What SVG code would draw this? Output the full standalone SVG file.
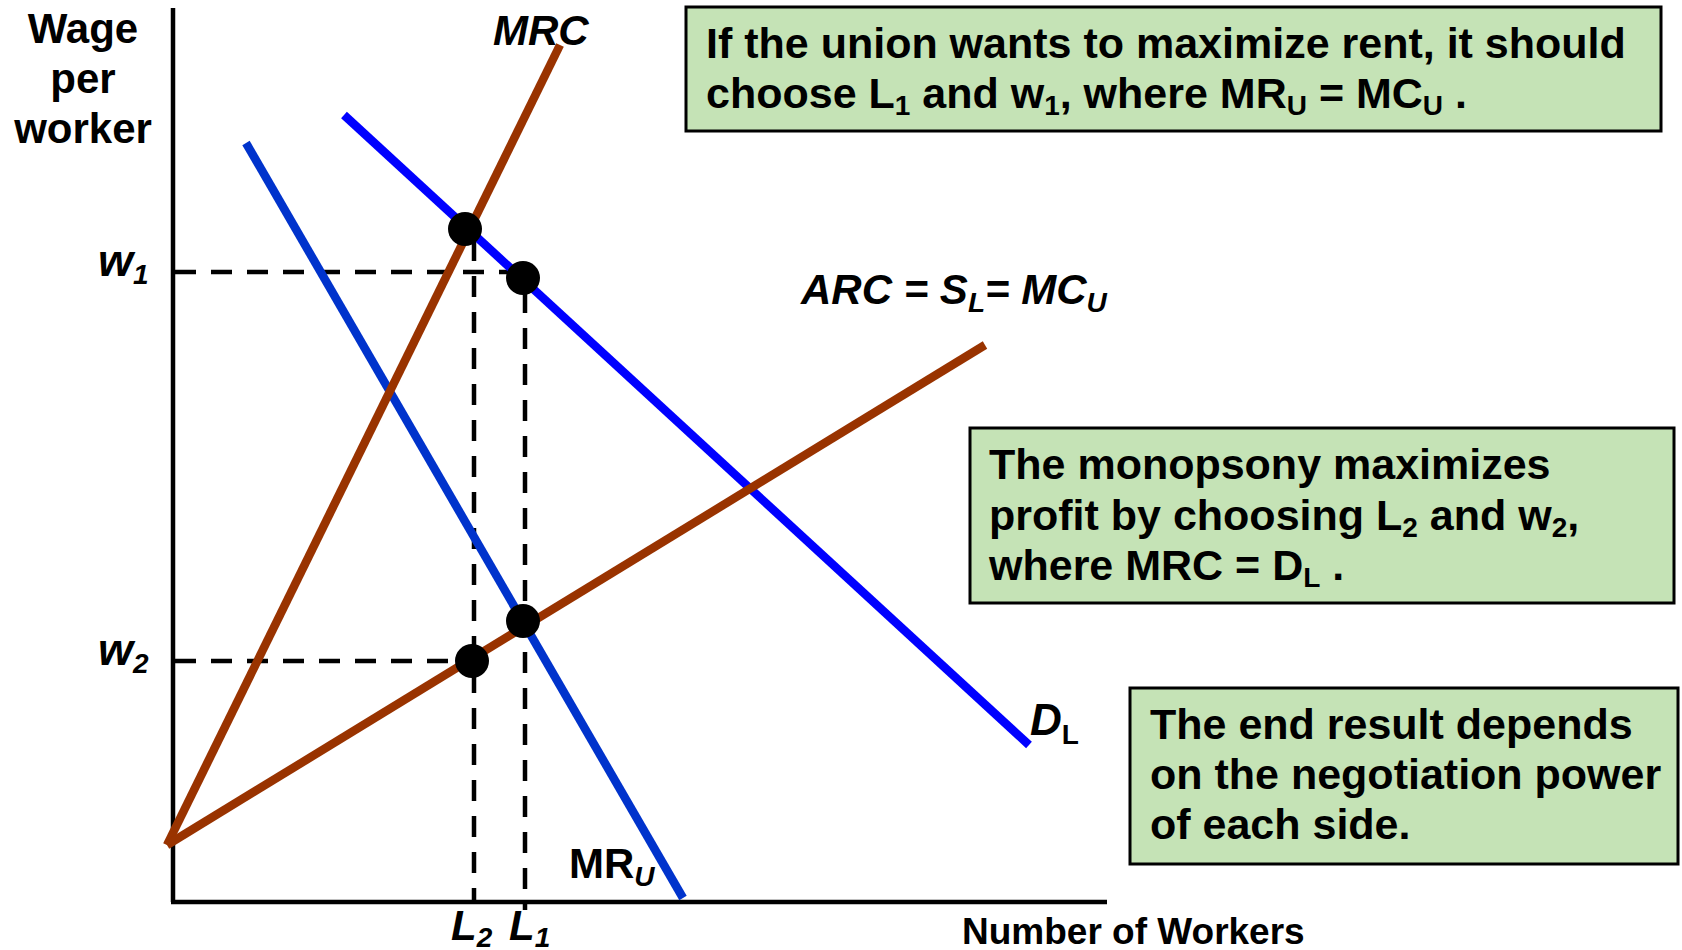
<svg xmlns="http://www.w3.org/2000/svg" width="1682" height="950" viewBox="0 0 1682 950">
<style>
text{font-family:"Liberation Sans",Arial,sans-serif;font-weight:bold;fill:#000}
.it{font-style:italic}
.up{font-style:normal}
.box{fill:#C5E3B6;stroke:#000;stroke-width:3}
.bt{font-size:43px}
.sub{font-size:28px}
.axis{stroke:#000;stroke-width:4.5;fill:none}
.dash{stroke:#000;stroke-width:4.5;stroke-dasharray:21 15;fill:none}
.brown{stroke:#993300;stroke-width:8.5;fill:none}
.dl{stroke:#0000FF;stroke-width:8.5;fill:none}
.mru{stroke:#0033CC;stroke-width:8.5;fill:none}
</style>
<rect width="1682" height="950" fill="#fff"/>
<g id="axes">
<line class="axis" x1="173" y1="8" x2="173" y2="902"/>
<line class="axis" x1="171" y1="902" x2="1107" y2="902"/>
<text x="83" y="43" font-size="42" text-anchor="middle">Wage</text>
<text x="83" y="93" font-size="42" text-anchor="middle">per</text>
<text x="83" y="143" font-size="42" text-anchor="middle">worker</text>
<text x="962" y="944" font-size="37">Number of Workers</text>
</g>
<g id="connectors">
<line class="dash" x1="175" y1="272" x2="510" y2="272"/>
<line class="dash" x1="175" y1="661" x2="460" y2="661"/>
<line class="dash" x1="474" y1="240" x2="474" y2="900"/>
<line class="dash" x1="525" y1="292" x2="525" y2="910"/>
<line class="mru" x1="246" y1="143" x2="683" y2="898"/>
<line class="dl" x1="344" y1="115" x2="1029" y2="745"/>
<line class="brown" x1="167" y1="845" x2="560" y2="45"/>
<line class="brown" x1="167" y1="845" x2="985" y2="345"/>
</g>
<g id="points">
<circle cx="465" cy="229" r="17"/>
<circle cx="523" cy="278" r="17"/>
<circle cx="523" cy="621" r="17"/>
<circle cx="472" cy="661" r="17"/>
</g>
<g id="labels">
<text class="it" x="493" y="45" font-size="42">MRC</text>
<text class="it" x="98" y="276" font-size="45">w<tspan class="sub" dy="8">1</tspan></text>
<text class="it" x="98" y="665" font-size="45">w<tspan class="sub" dy="8">2</tspan></text>
<text class="it" x="451" y="940" font-size="42">L<tspan class="sub" dy="7">2</tspan></text>
<text class="it" x="509" y="940" font-size="42">L<tspan class="sub" dy="7">1</tspan></text>
<text x="569" y="878" font-size="42">MR<tspan class="sub it" dy="8">U</tspan></text>
<text class="it" x="1030" y="735" font-size="44">D<tspan class="sub up" dy="9">L</tspan></text>
<text class="it" x="801" y="304" font-size="42">ARC = S<tspan class="sub" dy="8">L</tspan><tspan dy="-8">= MC</tspan><tspan class="sub" dy="8">U</tspan></text>
</g>
<g id="box1">
<rect class="box" x="686" y="7" width="975" height="124"/>
<text class="bt" x="706" y="58">If the union wants to maximize rent, it should</text>
<text class="bt" x="706" y="108">choose L<tspan class="sub" dy="7">1</tspan><tspan dy="-7"> and w</tspan><tspan class="sub" dy="7">1</tspan><tspan dy="-7">, where MR</tspan><tspan class="sub" dy="7">U</tspan><tspan dy="-7"> = MC</tspan><tspan class="sub" dy="7">U</tspan><tspan dy="-7"> .</tspan></text>
</g>
<g id="box2">
<rect class="box" x="970" y="428" width="704" height="175"/>
<text class="bt" x="989" y="479">The monopsony maximizes</text>
<text class="bt" x="989" y="530">profit by choosing L<tspan class="sub" dy="7">2</tspan><tspan dy="-7"> and w</tspan><tspan class="sub" dy="7">2</tspan><tspan dy="-7">,</tspan></text>
<text class="bt" x="989" y="580">where MRC = D<tspan class="sub" dy="7">L</tspan><tspan dy="-7"> .</tspan></text>
</g>
<g id="box3">
<rect class="box" x="1130" y="688" width="548" height="176"/>
<text class="bt" x="1150" y="739">The end result depends</text>
<text class="bt" x="1150" y="789">on the negotiation power</text>
<text class="bt" x="1150" y="839">of each side.</text>
</g>
</svg>
